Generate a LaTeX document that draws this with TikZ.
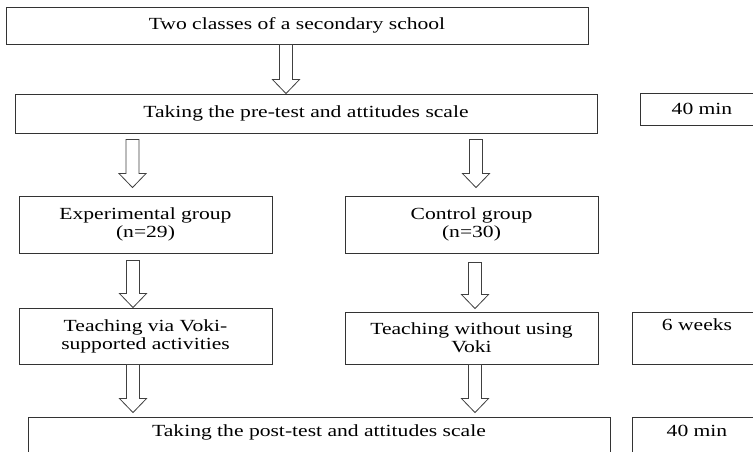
\documentclass[tikz,border=0pt]{standalone}
\usepackage{fontspec}
\setmainfont{Liberation Serif}[FakeStretch=1.27]
\usetikzlibrary{calc}

\begin{document}
\begin{tikzpicture}[x=1pt,y=1pt,
        box/.style={draw=black!80,line width=0.9pt,inner sep=3pt,align=center,
            font=\fontsize{17}{18}\selectfont},
        topbox/.style={box,text height=12pt,text depth=28pt},
        blockarrow/.style={draw=black!75,line width=0.8pt,fill=white,
            to path={let \p1=(\tikztostart),\p2=(\tikztotarget) in
                (\x1-6.5pt,\y1) -- (\x1-6.5pt,\y2+14pt) -- (\x1-13.5pt,\y2+14pt)
                -- (\x1,\y2) -- (\x1+13.5pt,\y2+14pt) -- (\x1+6.5pt,\y2+14pt)
                -- (\x1+6.5pt,\y1) -- cycle}}]
        \useasboundingbox (0,0) rectangle (753,-452);
        \clip (0,0) rectangle (753,-452);

        \node[box,minimum width=582,minimum height=37] (top) at (297,-25.5) {Two classes of a secondary school};
        \node[box,minimum width=582,minimum height=39] (pre) at (306,-113.5) {Taking the pre-test and attitudes scale};
        \node[box,minimum width=124,minimum height=32] (pretime) at (702,-109) {40 min};

        \node[box,minimum width=253,minimum height=57] (exp) at (145.5,-224.5) {Experimental group\\(n=29)};
        \node[box,minimum width=253,minimum height=57] (ctl) at (471.5,-224.5) {Control group\\(n=30)};

        \node[box,minimum width=253,minimum height=56] (expteach) at (145.5,-336) {Teaching via Voki-\\supported activities};
        \node[box,minimum width=253,minimum height=52] (ctlteach) at (471.5,-338) {Teaching without using\\Voki};
        \node[topbox,minimum width=130,minimum height=52] (weeks) at (697,-338) {6 weeks};

        \node[topbox,text depth=24pt,minimum width=582,minimum height=50] (post) at (319,-442) {Taking the post-test and attitudes scale};
        \node[topbox,text depth=24pt,minimum width=130,minimum height=50] (posttime) at (697,-442) {40 min};

        \draw[blockarrow] ([xshift=-11pt]top.south) to ([xshift=-20pt]pre.north);
        \draw[blockarrow] ([xshift=-173.5pt,yshift=-6pt]pre.south) to ([yshift=8pt]exp.north);
        \draw[blockarrow] ([xshift=170pt,yshift=-6pt]pre.south) to ([yshift=8pt]ctl.north);
        \draw[blockarrow] ([xshift=-12.5pt,yshift=-7pt]exp.south) to (expteach.north);
        \draw[blockarrow] ([xshift=3.5pt,yshift=-9pt]ctl.south) to ([yshift=3pt]ctlteach.north);
        \draw[blockarrow] ([xshift=-12.5pt]expteach.south) to ([yshift=4pt]post.north);
        \draw[blockarrow] ([xshift=3.5pt]ctlteach.south) to ([yshift=4pt]post.north);
    \end{tikzpicture}
\end{document}
